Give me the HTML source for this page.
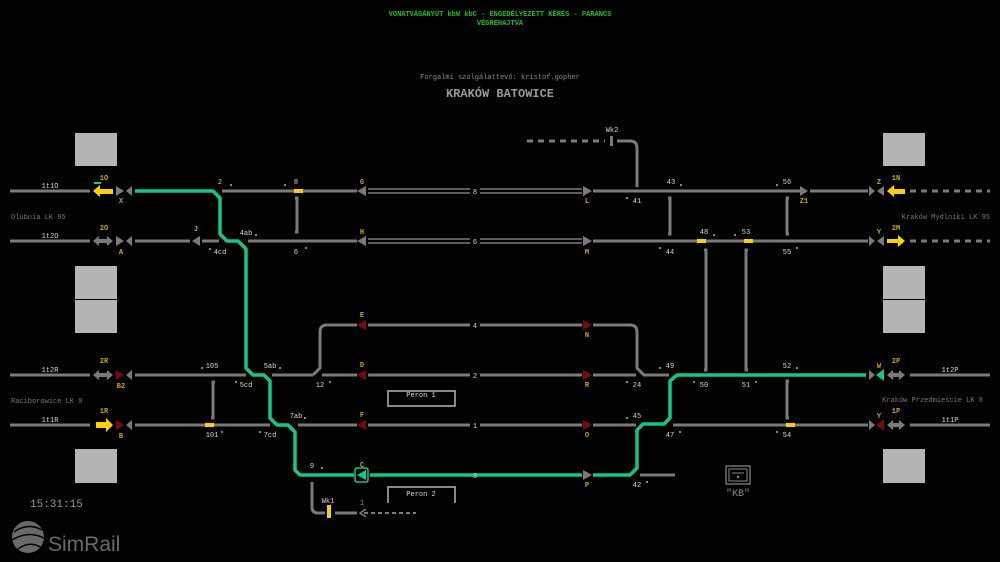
<!DOCTYPE html>
<html><head><meta charset="utf-8"><style>
html,body{margin:0;padding:0;background:#000;width:1000px;height:562px;overflow:hidden}
svg{display:block}
text{font-family:"Liberation Mono",monospace}
.l{font-size:7px;fill:#d8d8d8;text-anchor:middle}
.y{font-size:7px;fill:#d0a800;text-anchor:middle;font-weight:bold}
.t{stroke:#7a7a7a;stroke-width:3;fill:none}
.g{stroke:#10c888;stroke-width:3.5;fill:none;stroke-linejoin:round}
.d{stroke:#7a7a7a;stroke-width:1.5;fill:none}
.gr{fill:#7a7a7a}.rd{fill:#7a0a0a}.gn{fill:#10c888}
.yb{fill:#ffd000}
</style></head><body>
<svg width="1000" height="562" viewBox="0 0 1000 562">
<!-- headers -->
<text x="500" y="16" style="font-size:7px;fill:#18c018;text-anchor:middle;font-weight:bold">VONATVÁGÁNYÚT kbW kbC - ENGEDÉLYEZETT KÉRÉS - PARANCS</text>
<text x="500" y="25" style="font-size:7px;fill:#18c018;text-anchor:middle;font-weight:bold">VÉGREHAJTVA</text>
<text x="500" y="79" style="font-size:7px;fill:#8a8a8a;text-anchor:middle">Forgalmi szolgálattevő: kristof.gopher</text>
<text x="500" y="97" style="font-size:12px;fill:#9a9a9a;text-anchor:middle;font-weight:bold">KRAKÓW BATOWICE</text>

<!-- boxes -->
<g fill="#b4b4b4">
<rect x="75" y="133" width="42" height="33"/><rect x="75" y="266" width="42" height="33"/><rect x="75" y="300" width="42" height="33"/><rect x="75" y="449" width="42" height="34"/>
<rect x="883" y="133" width="42" height="33"/><rect x="883" y="266" width="42" height="33"/><rect x="883" y="300" width="42" height="33"/><rect x="883" y="449" width="42" height="34"/>
</g>

<!-- side labels -->
<text x="11" y="219" style="font-size:7px;fill:#777">Olubnia LK 95</text>
<text x="11" y="403" style="font-size:7px;fill:#777">Raciborowice LK 8</text>
<text x="990" y="219" style="font-size:7px;fill:#777;text-anchor:end">Kraków Mydlniki LK 95</text>
<text x="983" y="402" style="font-size:7px;fill:#777;text-anchor:end">Kraków Przedmieście LK 8</text>

<!-- left entry tracks -->
<path class="t" d="M10 191H90M10 241H90M10 375H90M10 425H90"/>
<text class="l" x="50" y="188">1t1O</text><text class="l" x="50" y="238">1t2O</text>
<text class="l" x="50" y="372">1t2R</text><text class="l" x="50" y="422">1t1R</text>
<!-- right entry -->
<path class="t" d="M910 375H990M910 425H990"/>
<path d="M910 191H990M910 241H990" stroke="#7a7a7a" stroke-width="3" stroke-dasharray="6,5"/>
<text class="l" x="950" y="372">1t2P</text><text class="l" x="950" y="422">1t1P</text>

<!-- arrows left -->
<polygon class="yb" points="93,191 100,185 100,189 113,189 113,194 100,194 100,197"/>
<rect x="94" y="182" width="7" height="2" fill="#10c888"/>
<polygon class="gr" points="93,241 99,236 99,239 107,239 107,236 113,241 107,246 107,243 99,243 99,246"/>
<polygon class="gr" points="93,375 99,370 99,373 107,373 107,370 113,375 107,380 107,377 99,377 99,380"/>
<polygon class="yb" points="96,422 106,422 106,418 113,425 106,432 106,428 96,428"/>
<text class="y" x="104" y="180">1O</text><text class="y" x="104" y="230">2O</text><text class="y" x="104" y="363">2R</text><text class="y" x="104" y="413">1R</text>
<!-- arrows right -->
<polygon class="yb" points="887,191 894,185 894,189 905,189 905,194 894,194 894,197"/>
<polygon class="yb" points="887,239 898,239 898,235 905,241 898,247 898,243 887,243"/>
<polygon class="gr" points="887,375 893,370 893,373 899,373 899,370 905,375 899,380 899,377 893,377 893,380"/>
<polygon class="gr" points="887,425 893,420 893,423 899,423 899,420 905,425 899,430 899,427 893,427 893,430"/>
<text class="y" x="896" y="180">1N</text><text class="y" x="896" y="230">2M</text><text class="y" x="896" y="363">2P</text><text class="y" x="896" y="413">1P</text>

<!-- end signals left -->
<polygon class="gr" points="116,186 124,191 116,196"/><polygon class="gr" points="132,186 126,191 132,196"/>
<polygon class="gr" points="116,236 124,241 116,246"/><polygon class="gr" points="132,236 126,241 132,246"/>
<polygon class="rd" points="116,370 124,375 116,380"/><polygon class="gr" points="132,370 126,375 132,380"/>
<polygon class="rd" points="116,420 124,425 116,430"/><polygon class="gr" points="132,420 126,425 132,430"/>
<text class="y" x="121" y="203">X</text><text class="y" x="121" y="254">A</text><text class="y" x="121" y="388">B2</text><text class="y" x="121" y="438">B</text>
<!-- end signals right -->
<polygon class="gr" points="869,186 875,191 869,196"/><polygon class="gr" points="884,186 877,191 884,196"/>
<polygon class="gr" points="869,236 875,241 869,246"/><polygon class="gr" points="884,236 877,241 884,246"/>
<polygon class="gr" points="869,370 875,375 869,380"/><polygon class="gn" points="884,369 876,375 884,381"/>
<polygon class="gr" points="869,420 875,425 869,430"/><polygon class="rd" points="884,419 876,425 884,431"/>
<text class="y" x="879" y="184">Z</text><text class="y" x="879" y="234">Y</text><text class="y" x="879" y="368">W</text><text class="y" x="879" y="418">Y</text>

<!-- row 191 -->
<path class="t" d="M222 191H357M593 191H800M810 191H868"/>
<rect x="294" y="189" width="9" height="4" class="yb"/>
<polygon class="gr" points="366,186 357,191 366,196"/>
<path class="d" d="M368 189H470M368 193H470M480 189H582M480 193H582"/>
<polygon class="gr" points="583,186 592,191 583,196"/>
<polygon class="gr" points="800,186 808,191 800,196"/>
<!-- row 241 -->
<path class="t" d="M135 241H190M202 241H219M248 241H357M593 241H868"/>
<polygon class="gr" points="200,236 192,241 200,246"/>
<rect x="697" y="239" width="9" height="4" class="yb"/><rect x="744" y="239" width="9" height="4" class="yb"/>
<polygon class="gr" points="366,236 357,241 366,246"/>
<path class="d" d="M368 239H470M368 243H470M480 239H582M480 243H582"/>
<polygon class="gr" points="583,236 592,241 583,246"/>
<!-- crossovers -->
<path class="t" d="M295 198H297V232H295M668 198H670V234H668M789 198H787V234H789M704 250H706V370H704M748 250H746V370H748M215 382H213V418H211M789 381H787V418H789" stroke-width="2.5"/>
<!-- Wk2 -->
<path d="M527 141H605" stroke="#7a7a7a" stroke-width="3" stroke-dasharray="6,5"/>
<rect x="610" y="136" width="3" height="10" fill="#7a7a7a"/>
<path class="t" d="M617 141H630Q637 141 637 148V187"/>
<text class="l" x="612" y="132">Wk2</text>

<!-- track 4 -->
<path class="t" d="M313 375L320 368V332Q320 325 327 325H357M368 325H470M480 325H582M593 325H630Q637 325 637 332V368L644 375H669"/>
<polygon class="rd" points="366,320 357,325 366,330"/><polygon class="rd" points="583,320 592,325 583,330"/>
<!-- track 2 -->
<path class="t" d="M135 375H246M272 375H313M322 375H357M368 375H470M480 375H582M593 375H636"/>
<polygon class="rd" points="366,370 357,375 366,380"/><polygon class="rd" points="583,370 592,375 583,380"/>
<!-- track 1 -->
<path class="t" d="M135 425H270M298 425H357M368 425H470M480 425H582M593 425H636M673 425H868"/>
<rect x="205" y="423" width="9" height="4" class="yb"/><rect x="786" y="423" width="9" height="4" class="yb"/>
<polygon class="rd" points="366,420 357,425 366,430"/><polygon class="rd" points="583,420 592,425 583,430"/>
<!-- track 3 stub -->
<path class="t" d="M640 475H675"/>

<!-- green route -->
<path class="g" d="M135 191H213L220 198V234L227 241H238L246 249V368L253 375H264L270 381V418L277 425H288L295 432V470L300 475H354M370 475H582M593 475H630L637 468V430L643 424H664L670 418V381L677 375H866"/>
<rect x="355" y="468" width="13" height="14" rx="2" fill="none" stroke="#10c888" stroke-width="1.5"/>
<polygon class="gn" points="366,470 357,475 366,480"/>
<polygon class="gr" points="583,470 592,475 583,480"/>

<!-- Wk1 -->
<path class="t" d="M312 482V507Q312 513 318 513H325M335 513H357"/>
<rect x="327" y="505" width="4" height="13" class="yb"/>
<path d="M366 509L360 513L366 517" stroke="#7a7a7a" stroke-width="1.5" fill="none"/>
<path d="M364 513H416" stroke="#7a7a7a" stroke-width="2" stroke-dasharray="4,3"/>
<text class="l" x="328" y="503">Wk1</text>
<text x="362" y="505" style="font-size:8px;fill:#10a0a0;text-anchor:middle">1</text>

<!-- perons -->
<rect x="388" y="391" width="67" height="15" fill="none" stroke="#b4b4b4" stroke-width="1.5"/>
<text class="l" x="421" y="397">Peron 1</text>
<path d="M388 503V487H455V503" fill="none" stroke="#b4b4b4" stroke-width="1.5"/>
<text class="l" x="421" y="496">Peron 2</text>

<!-- track numbers -->
<g class="l"><text x="475" y="194">8</text><text x="475" y="244">6</text><text x="475" y="328">4</text><text x="475" y="378">2</text><text x="475" y="428">1</text><text x="475" y="478">3</text></g>
<!-- signal letters -->
<g class="y"><text x="362" y="184">G</text><text x="362" y="234">H</text><text x="362" y="317">E</text><text x="362" y="367">D</text><text x="362" y="417">F</text><text x="362" y="467">C</text>
<text x="587" y="203">L</text><text x="587" y="254">M</text><text x="587" y="337">N</text><text x="587" y="387">R</text><text x="587" y="437">O</text><text x="587" y="487">P</text><text x="804" y="203">Z1</text><text x="196" y="231">J</text></g>

<!-- switch labels -->
<g class="l">
<text x="220" y="184">2</text><text x="296" y="184">8</text><text x="246" y="235">4ab</text><text x="220" y="254">4cd</text><text x="296" y="254">6</text>
<text x="671" y="184">43</text><text x="787" y="184">56</text><text x="637" y="203">41</text><text x="704" y="234">48</text><text x="746" y="234">53</text><text x="670" y="254">44</text><text x="787" y="254">55</text>
<text x="212" y="368">105</text><text x="270" y="368">5ab</text><text x="246" y="387">5cd</text><text x="320" y="387">12</text><text x="212" y="437">101</text><text x="270" y="437">7cd</text><text x="296" y="418">7ab</text><text x="312" y="468">9</text>
<text x="670" y="368">49</text><text x="637" y="387">24</text><text x="704" y="387">50</text><text x="746" y="387">51</text><text x="787" y="368">52</text><text x="637" y="418">45</text><text x="670" y="437">47</text><text x="787" y="437">54</text><text x="637" y="487">42</text>
</g>
<g fill="#e0e0e0">
<circle cx="231" cy="185" r="0.9"/><circle cx="285" cy="185" r="0.9"/><circle cx="256" cy="235" r="0.9"/><circle cx="210" cy="249" r="0.9"/><circle cx="306" cy="248" r="0.9"/>
<circle cx="681" cy="185" r="0.9"/><circle cx="777" cy="185" r="0.9"/><circle cx="627" cy="198" r="0.9"/><circle cx="714" cy="235" r="0.9"/><circle cx="735" cy="235" r="0.9"/><circle cx="660" cy="248" r="0.9"/><circle cx="797" cy="248" r="0.9"/>
<circle cx="202" cy="368" r="0.9"/><circle cx="280" cy="368" r="0.9"/><circle cx="236" cy="382" r="0.9"/><circle cx="330" cy="382" r="0.9"/><circle cx="222" cy="432" r="0.9"/><circle cx="260" cy="432" r="0.9"/><circle cx="305" cy="418" r="0.9"/><circle cx="322" cy="468" r="0.9"/>
<circle cx="660" cy="368" r="0.9"/><circle cx="627" cy="382" r="0.9"/><circle cx="694" cy="382" r="0.9"/><circle cx="756" cy="382" r="0.9"/><circle cx="797" cy="368" r="0.9"/><circle cx="627" cy="418" r="0.9"/><circle cx="680" cy="432" r="0.9"/><circle cx="777" cy="432" r="0.9"/><circle cx="647" cy="482" r="0.9"/>
</g>

<!-- KB icon -->
<rect x="726" y="466" width="24" height="18" fill="none" stroke="#8a8a8a" stroke-width="1.2"/>
<rect x="729" y="469" width="18" height="12" fill="none" stroke="#8a8a8a" stroke-width="1"/>
<path d="M732 473H744" stroke="#8a8a8a" stroke-width="1"/><circle cx="738" cy="477" r="1.2" fill="#8a8a8a"/>
<text x="738" y="496" style="font-size:10px;fill:#8a8a8a;text-anchor:middle">"KB"</text>

<!-- clock & logo -->
<text x="30" y="507" style="font-size:11px;fill:#9a9a9a">15:31:15</text>
<circle cx="28" cy="537" r="16" fill="#6a6a6a"/>
<path d="M14 532Q28 522 42 530M12 540Q28 530 44 538M18 549Q30 540 42 548" stroke="#000" stroke-width="1.5" fill="none"/>
<text x="48" y="551" style="font-family:'Liberation Sans',sans-serif;font-size:21px;fill:#6a6a6a">SimRail</text>
</svg>
</body></html>
